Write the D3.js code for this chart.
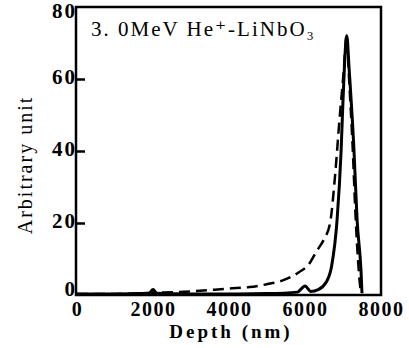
<!DOCTYPE html>
<html>
<head>
<meta charset="utf-8">
<script src="https://cdn.jsdelivr.net/npm/d3@7"></script>
<style>
  body { margin: 0; background: #fff; }
  svg { display: block; }
  text { font-family: "Liberation Serif", "DejaVu Serif", serif; fill: #000; }
  .tick text { font-family: "Liberation Serif", "DejaVu Serif", serif; font-weight: bold; }
  .x-axis .tick text { font-size: 20px; letter-spacing: 1.5px; }
  .y-axis .tick text { font-size: 21px; letter-spacing: 2px; }
</style>
</head>
<body>
<div id="chart"></div>
<script>
// depth (nm) / arbitrary unit
const solidDepth = [0, 1000, 1900, 2000, 2100, 3000, 4000, 5000, 5800, 6000, 6150, 6350, 6560, 6700, 6845, 6950, 7000, 7100, 7160, 7290, 7370, 7475, 7500];
const solidValue = [0.3, 0.3, 0.5, 1.5, 0.5, 0.3, 0.3, 0.4, 0.8, 2.5, 1, 1.5, 3.6, 8, 21, 40, 54, 72, 63, 40, 21, 6.5, 0.5];

const dashDepth = [0, 1000, 2000, 3000, 4000, 4540, 5000, 5400, 5850, 6100, 6295, 6500, 6660, 6790, 6910, 7010, 7100, 7150, 7250, 7330, 7420, 7470];
const dashValue = [0.3, 0.3, 0.6, 1, 1.8, 2.2, 3, 4, 6.4, 8.5, 12, 15.5, 20, 33, 49, 61, 72, 62, 42, 22, 6, 0.5];

const xTicks = [0, 2000, 4000, 6000, 8000];
const yTicks = [0, 20, 40, 60, 80];

const title = "3. 0MeV He\u207A-LiNbO\u2083";
const xLabel = "Depth (nm)";
const yLabel = "Arbitrary unit";

const W = 409, H = 348;
const margin = {top: 7, right: 28, bottom: 53, left: 77};

const svg = d3.select("#chart").append("svg")
    .attr("width", W)
    .attr("height", H);

const x = d3.scaleLinear()
    .domain([0, 8000])
    .range([margin.left, W - margin.right]);

const y = d3.scaleLinear()
    .domain([0, 80])
    .range([H - margin.bottom, margin.top]);

// frame
svg.append("rect")
    .attr("x", x(0) - 1)
    .attr("y", y(80))
    .attr("width", x(8000) - x(0) + 1)
    .attr("height", y(0) - y(80))
    .attr("fill", "none")
    .attr("stroke", "#000")
    .attr("stroke-width", 2.5);

// axes
const xAxis = d3.axisBottom(x).tickValues(xTicks).tickSize(0).tickPadding(7).tickFormat(d3.format("d"));
svg.append("g")
    .attr("class", "x-axis")
    .attr("transform", `translate(0,${y(0)})`)
    .call(xAxis)
    .call(g => g.select(".domain").remove());

// inward tick marks on the left side
const yTickMarks = d3.axisRight(y).tickValues(yTicks.slice(1, 4)).tickSize(9).tickFormat(d => "");
svg.append("g")
    .attr("transform", `translate(${x(0) - 1},0)`)
    .call(yTickMarks)
    .call(g => g.select(".domain").remove())
    .selectAll("line").attr("stroke", "#000").attr("stroke-width", 2.5);

const yAxis = d3.axisLeft(y).tickValues(yTicks).tickSize(0).tickPadding(0).tickFormat(d3.format("d"));
svg.append("g")
    .attr("class", "y-axis")
    .attr("transform", `translate(${x(0)},0)`)
    .call(yAxis)
    .call(g => g.select(".domain").remove())
    .selectAll(".tick text")
    .attr("y", d => d === 0 ? -6 : d === 80 ? 4 : -2);

// curves
const line = d3.line()
    .x(d => x(d[0]))
    .y(d => y(d[1]))
    .curve(d3.curveMonotoneX);

svg.append("path")
    .datum(d3.zip(dashDepth, dashValue))
    .attr("d", line)
    .attr("fill", "none")
    .attr("stroke", "#000")
    .attr("stroke-width", 2.5)
    .attr("stroke-dasharray", "11,6");

svg.append("path")
    .datum(d3.zip(solidDepth, solidValue))
    .attr("d", line)
    .attr("fill", "none")
    .attr("stroke", "#000")
    .attr("stroke-width", 3);

// texts
svg.append("text")
    .attr("x", 91)
    .attr("y", 36)
    .attr("font-size", 21)
    .attr("letter-spacing", 2)
    .text(title);

svg.append("text")
    .attr("x", (x(0) + x(8000)) / 2 + 2)
    .attr("y", 338)
    .attr("text-anchor", "middle")
    .attr("font-weight", "bold")
    .attr("font-size", 19)
    .attr("letter-spacing", 3)
    .text(xLabel);

svg.append("text")
    .attr("transform", `translate(32,165) rotate(-90)`)
    .attr("text-anchor", "middle")
    .attr("font-size", 20)
    .attr("letter-spacing", 2)
    .text(yLabel);
</script>
</body>
</html>
